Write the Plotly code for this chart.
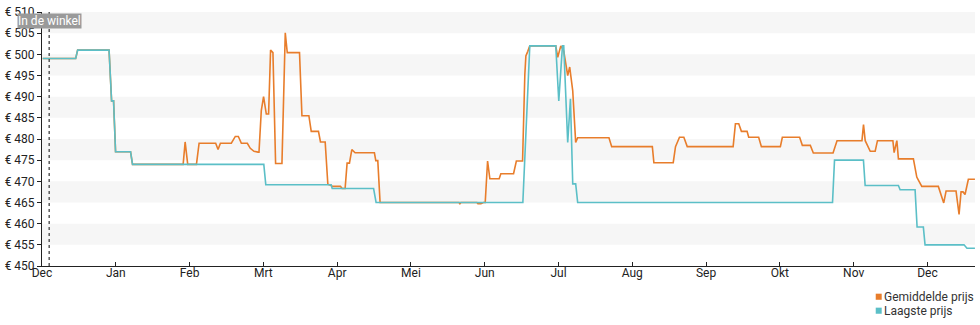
import plotly.graph_objects as go

# Month labels along the x axis (one tick per month, Dec .. Dec)
month_labels = ["Dec", "Jan", "Feb", "Mrt", "Apr", "Mei", "Jun", "Jul",
                "Aug", "Sep", "Okt", "Nov", "Dec"]

# Price axis ticks (euro)
price_ticks = list(range(450, 511, 5))
price_labels = ["€ %d" % v for v in price_ticks]

# Lowest price: x in months since start (fractional), y in euro
low_x = [0.01, 0.456, 0.483, 0.909, 0.943, 0.970, 0.997, 1.20, 1.227, 3.006,
         3.033, 3.919, 3.933, 4.494, 4.528, 6.517, 6.611, 6.963, 7.004, 7.054,
         7.071, 7.125, 7.162, 7.193, 7.233, 7.26, 10.714, 10.741, 11.133, 11.156,
         11.607, 11.630, 11.833, 11.860, 11.945, 11.968, 12.496, 12.536, 12.644]
low_y = [499, 499, 501, 501, 489, 489, 477, 477, 474, 474,
         469.2, 469.2, 468.3, 468.3, 465, 465, 502, 502, 489, 502,
         502, 479.2, 489.5, 469.4, 469.4, 465, 465, 475, 475, 469,
         469, 468, 468, 459.2, 459.2, 455, 455, 454.2, 454.2]

# Average price
avg_x = [0.01, 0.456, 0.483, 0.909, 0.943, 0.970, 0.997, 1.20, 1.227, 1.913,
         1.940, 1.975, 2.093, 2.129, 2.354, 2.386, 2.418, 2.566, 2.620, 2.661,
         2.702, 2.783, 2.823, 2.873, 2.927, 2.941, 2.972, 3.003, 3.040, 3.071,
         3.098, 3.130, 3.166, 3.252, 3.297, 3.324, 3.490, 3.523, 3.617, 3.649,
         3.747, 3.774, 3.838, 3.874, 3.919, 3.933, 4.045, 4.068, 4.108, 4.135,
         4.167, 4.199, 4.244, 4.505, 4.524, 4.551, 4.582, 5.651, 5.664, 5.678,
         5.894, 5.908, 5.948, 5.982, 6.007, 6.039, 6.070, 6.196, 6.219, 6.391,
         6.429, 6.513, 6.544, 6.558, 6.584, 6.611, 6.963, 6.990, 7.031, 7.071,
         7.125, 7.152, 7.193, 7.233, 7.26, 7.684, 7.721, 8.272, 8.293, 8.555,
         8.586, 8.640, 8.699, 8.745, 9.367, 9.398, 9.443, 9.479, 9.556, 9.578,
         9.713, 9.750, 10.007, 10.034, 10.268, 10.305, 10.413, 10.454, 10.721, 10.775,
         11.113, 11.134, 11.157, 11.225, 11.292, 11.323, 11.532, 11.549, 11.586, 11.607,
         11.810, 11.856, 11.874, 11.924, 12.148, 12.203, 12.221, 12.253, 12.388, 12.429,
         12.456, 12.483, 12.510, 12.555, 12.644]
avg_y = [499, 499, 501, 501, 489, 489, 477, 477, 474, 474,
         479.3, 474, 474, 479, 479, 477.5, 479, 479, 480.6, 480.6,
         479, 479, 477.8, 477.1, 476.9, 476.9, 486.7, 490, 485.9, 485.9,
         501, 500.4, 474.2, 474.2, 505.1, 500.4, 500.4, 485.5, 485.5, 481.8,
         481.8, 479.3, 479.3, 469.3, 469, 468.8, 468.8, 468.3, 468.3, 474.3,
         474.3, 477.5, 476.75, 476.75, 474.9, 474.9, 465, 465, 464.7, 465,
         465, 464.7, 464.7, 465, 465, 474.8, 470.6, 470.6, 471.8, 471.8,
         474.8, 474.8, 495.3, 499.6, 500.7, 502, 502, 499.3, 502, 500.8,
         495, 497, 491.4, 479.2, 480.3, 480.3, 478.2, 478.2, 474.4, 474.4,
         478.2, 480.4, 480.4, 478.2, 478.2, 483.6, 483.6, 481.8, 481.8, 480.4,
         480.4, 478.2, 478.2, 480.4, 480.4, 478.5, 478.5, 476.7, 476.7, 479.6,
         479.6, 483.4, 479.6, 477.1, 477.1, 479.6, 479.6, 476.8, 479.6, 475.3,
         475.3, 471, 470.4, 468.8, 468.8, 465.5, 464.9, 467.7, 467.7, 462.2,
         467.5, 467.5, 466.9, 470.5, 470.5]

# Marker for the date the product became available in store
store_x = 0.097
store_label = "In de winkel"

series_names = ["Gemiddelde prijs", "Laagste prijs"]
ORANGE = "#e87d2b"
TEAL = "#5bbfc7"

fig = go.Figure()
fig.add_trace(go.Scatter(x=avg_x, y=avg_y, mode="lines", name=series_names[0],
                         line=dict(color=ORANGE, width=1.6), showlegend=False))
fig.add_trace(go.Scatter(x=low_x, y=low_y, mode="lines", name=series_names[1],
                         line=dict(color=TEAL, width=1.6), showlegend=False))

# Alternating light bands every other 5-euro step
shapes = []
for lo in price_ticks[1:-1:2]:
    shapes.append(dict(type="rect", xref="paper", yref="y", x0=0, x1=1,
                       y0=lo, y1=lo + 5, fillcolor="#f6f6f6",
                       line=dict(width=0), layer="below"))
# Dotted "in store" line
shapes.append(dict(type="line", xref="x", yref="paper", x0=store_x, x1=store_x,
                   y0=0, y1=1, line=dict(color="#333333", width=1.2, dash="dot")))

# Legend swatches
leg_y = [-0.121, -0.176]
for yy, col in zip(leg_y, [ORANGE, TEAL]):
    shapes.append(dict(type="rect", xref="paper", yref="paper",
                       x0=0.8936, x1=0.9000, y0=yy - 0.012, y1=yy + 0.012,
                       fillcolor=col, line=dict(width=0)))

annotations = [
    dict(x=store_x, y=507.9, xref="x", yref="y", text=store_label,
         showarrow=False, font=dict(family="Roboto", size=12, color="white"),
         bgcolor="#9a9a9a", borderpad=0, xanchor="center", yanchor="middle"),
]
for yy, name in zip(leg_y, series_names):
    annotations.append(dict(x=0.9005, y=yy, xref="paper", yref="paper",
                            text=name, showarrow=False, xanchor="left",
                            yanchor="middle",
                            font=dict(family="Roboto", size=12, color="#333333")))

fig.update_layout(
    width=980, height=325,
    margin=dict(l=41, r=5, t=10, b=59),
    plot_bgcolor="white", paper_bgcolor="white",
    font=dict(family="Roboto", size=12, color="#222222"),
    shapes=shapes, annotations=annotations,
    xaxis=dict(range=[0, 12.645], tickmode="array",
               tickvals=list(range(len(month_labels))), ticktext=month_labels,
               showgrid=False, zeroline=False, showline=True,
               linecolor="#222222", linewidth=1, ticks="inside", ticklen=4,
               tickcolor="#222222", ticklabelstandoff=-4, fixedrange=True),
    yaxis=dict(range=[450, 510], tickmode="array", tickvals=price_ticks,
               ticktext=price_labels, showgrid=False, zeroline=False,
               showline=True, linecolor="#222222", linewidth=1,
               ticks="outside", ticklen=4, tickcolor="#222222",
               fixedrange=True),
)

fig.write_html("out.html")
